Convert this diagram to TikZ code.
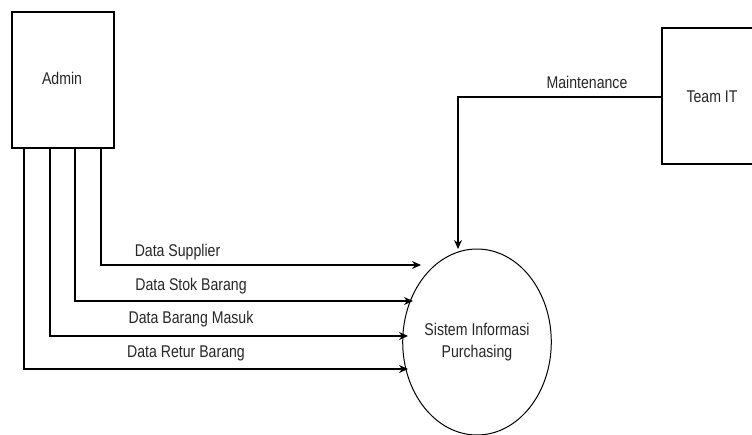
\documentclass[tikz,border=0pt]{standalone}
\usepackage{fontspec}
\setmainfont{Liberation Sans}[FakeStretch=0.83]
\usetikzlibrary{arrows.meta,shapes.geometric}
\begin{document}
\begin{tikzpicture}[x=1pt,y=-1pt,
  every node/.style={font=\fontsize{17}{22}\selectfont,text=black!85},
  entity/.style={draw=black,line width=1.2pt,minimum width=102pt,minimum height=136pt,inner sep=0pt},
  process/.style={draw=black,ellipse,line width=1pt,minimum width=140pt,minimum height=186pt,inner sep=0pt,align=center},
  flow/.style={line width=1.2pt,-{Stealth[length=9pt,width=8pt]}},
  flowlabel/.style={inner sep=0pt,anchor=center}]
\useasboundingbox (0,0) rectangle (752,434);

% external entities and the process
\node[entity] (admin) at (63,80) {};
\node at (62,78) {Admin};
\node[entity,minimum width=100pt] (team) at (712,96) {};
\node at (712,97) {Team IT};
\node[process] (sip) at (477,342) {Sistem Informasi\\Purchasing};

% arrow end points at the process
\coordinate (inSup) at (421,265);
\coordinate (inStok) at (413,301);
\coordinate (inMasuk) at (408,336);
\coordinate (inRetur) at (408,369);
\coordinate (inMaint) at (458,249);

% data flows from Admin
\draw[flow] (admin.south -| 101,0) |- (inSup);
\draw[flow] (admin.south -| 75,0) |- (inStok);
\draw[flow] (admin.south -| 50,0) |- (inMasuk);
\draw[flow] (admin.south -| 24,0) |- (inRetur);

% maintenance flow from Team IT
\draw[flow] (team.west |- 0,97) -| (inMaint);

% flow labels
\node[flowlabel] (lSup) at (177.5,252) {Data Supplier};
\node[flowlabel] (lStok) at (191,286) {Data Stok Barang};
\node[flowlabel] (lMasuk) at (191,319) {Data Barang Masuk};
\node[flowlabel] (lRetur) at (186,353) {Data Retur Barang};
\node[flowlabel] (lMaint) at (587,82) {Maintenance};
\end{tikzpicture}
\end{document}
